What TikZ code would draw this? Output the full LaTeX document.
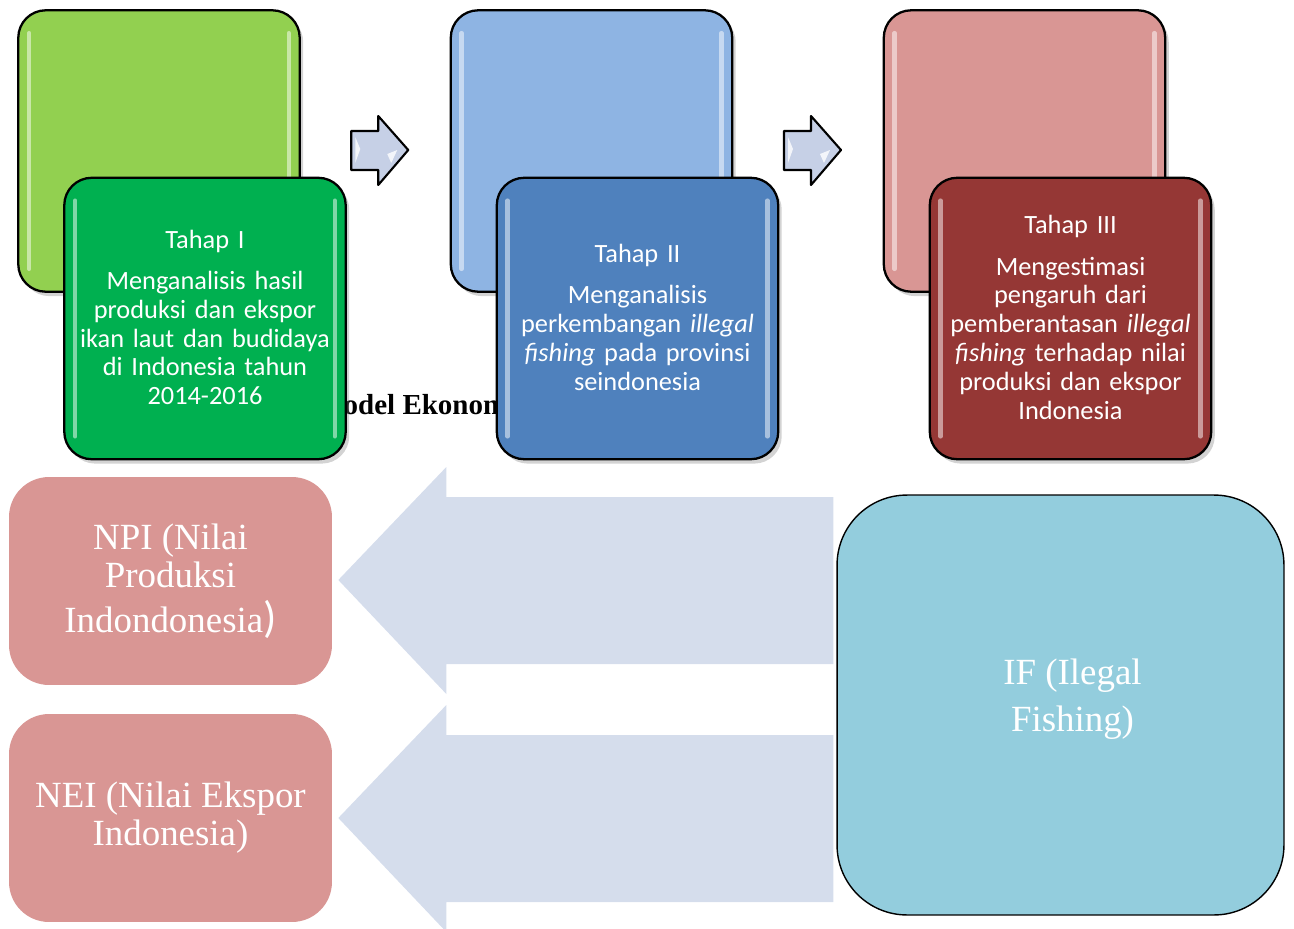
\documentclass[tikz,border=0pt]{standalone}
\usepackage{fontspec}
\setmainfont{Liberation Serif}
\newfontfamily\calibri{Carlito}
\usetikzlibrary{calc,shadows}

\definecolor{hijauMuda}{RGB}{146,208,80}
\definecolor{hijau}{RGB}{0,176,80}
\definecolor{biruMuda}{RGB}{142,180,227}
\definecolor{biru}{RGB}{79,129,189}
\definecolor{merahMuda}{RGB}{217,150,148}
\definecolor{merahTua}{RGB}{149,55,53}
\definecolor{biruLaut}{RGB}{147,205,221}
\definecolor{panahAbu}{RGB}{213,221,236}
\definecolor{panahKecil}{RGB}{198,208,230}

\tikzset{
  kotak/.style={draw=black, line width=1.3pt, rounded corners=0.55cm,
    minimum width=5.63cm, minimum height=5.63cm, inner sep=0pt,
    drop shadow={shadow xshift=2pt, shadow yshift=-2.5pt, opacity=0.35}},
  teksTahap/.style={text=white, align=center, text width=5.4cm,
    font=\calibri\fontsize{15}{16.4}\selectfont},
  kilap/.style={white, line width=2.5pt, opacity=0.5, line cap=round},
  kotakHasil/.style={fill=merahMuda, rounded corners=0.8cm,
    minimum width=6.46cm, minimum height=4.16cm, text=white, align=center,
    font=\fontsize{21}{21.5}\selectfont},
  panahBesar/.style={fill=panahAbu},
  panahTahap/.style={fill=panahKecil, draw=black, line width=1.2pt, line join=round}
}

\begin{document}
\begin{tikzpicture}[x=0.02cm, y=-0.02cm]

\useasboundingbox (0,0) rectangle (1294,929);

% Judul di belakang kotak
\node[anchor=base west, inner sep=0pt, font=\bfseries\fontsize{16.5}{18}\selectfont]
  (judul) at (316,414) {Model Ekonomi};

% Kotak tahap
\node[kotak, fill=hijauMuda] (b1back) at (159,151) {};
\node[kotak, fill=biruMuda] (b2back) at (591.5,151) {};
\node[kotak, fill=merahMuda] (b3back) at (1024.5,151) {};
\foreach \b in {b1back,b2back,b3back} {
  \draw[kilap] ($(\b.north west)+(12,24)$) -- ($(\b.south west)+(12,-24)$);
  \draw[kilap] ($(\b.north east)+(-12,24)$) -- ($(\b.south east)+(-12,-24)$);
}

\node[kotak, fill=hijau] (b1) at (205,318.5) {};
\node[kotak, fill=biru] (b2) at (637.5,318.5) {};
\node[kotak, fill=merahTua] (b3) at (1070.5,318.5) {};
\foreach \b in {b1,b2,b3} {
  \draw[kilap] ($(\b.north west)+(12,24)$) -- ($(\b.south west)+(12,-24)$);
  \draw[kilap] ($(\b.north east)+(-12,24)$) -- ($(\b.south east)+(-12,-24)$);
}

% Teks tahap
\node[teksTahap] (t1) at ($(b1)+(0,-1)$) {Tahap I\\[7pt]
  Menganalisis hasil\\produksi dan ekspor\\ikan laut dan budidaya\\di Indonesia tahun\\2014-2016};
\node[teksTahap] (t2) at ($(b2)+(0,-1)$) {Tahap II\\[7pt]
  Menganalisis\\perkembangan \textit{illegal}\\\textit{fishing} pada provinsi\\seindonesia};
\node[teksTahap] (t3) at ($(b3)+(0,-1)$) {Tahap III\\[7pt]
  Mengestimasi\\pengaruh dari\\pemberantasan \textit{illegal}\\\textit{fishing} terhadap nilai\\produksi dan ekspor\\Indonesia};

% Panah antar tahap
\foreach \a/\b in {b1back/b2back, b2back/b3back} {
  \path ($(\a.east)!0.5!(\b.west)$) coordinate (m);
  \draw[panahTahap] ($(m)+(-24,-20)$) -- ($(m)+(3,-20)$) -- ($(m)+(3,-35)$)
    -- ($(m)+(33,-1)$) -- ($(m)+(3,34)$) -- ($(m)+(3,19)$)
    -- ($(m)+(-24,19)$) -- cycle;
  \fill[white, opacity=0.8] ($(m)+(-20,-14)$) -- ($(m)+(-15,-2)$) -- ($(m)+(-20,12)$) -- cycle;
  \fill[white, opacity=0.8] ($(m)+(12,3)$) -- ($(m)+(22,-1)$) -- ($(m)+(16,12)$) -- cycle;
}

% Model bawah
\node[kotakHasil] (npi) at (170.5,581)
  {NPI (Nilai\\Produksi\\[4pt]Indondonesia{\calibri\fontsize{25}{25}\selectfont)}};
\node[kotakHasil] (nei) at (170.5,818) {\raisebox{-4pt}{NEI (Nilai Ekspor}\\\raisebox{-4pt}{Indonesia)}};
\node[draw=black, line width=0.8pt, fill=biruLaut, rounded corners=1.4cm,
  minimum width=8.94cm, minimum height=8.4cm] (IF) at (1060.5,705) {};
\node[text=white, align=center, font=\fontsize{21}{27}\selectfont]
  (ifteks) at ($(IF.center)+(12,-6)$) {IF (Ilegal\\Fishing)};

% Panah pengaruh
\foreach \k/\dy in {npi/-1, nei/0} {
  \fill[panahBesar] ($(\k.east)+(6,\dy)$) -- ++(108,-113) -- ++(0,30)
    -- ++(387,0) -- ++(0,167) -- ++(-387,0) -- ++(0,30) -- cycle;
}

\end{tikzpicture}
\end{document}
